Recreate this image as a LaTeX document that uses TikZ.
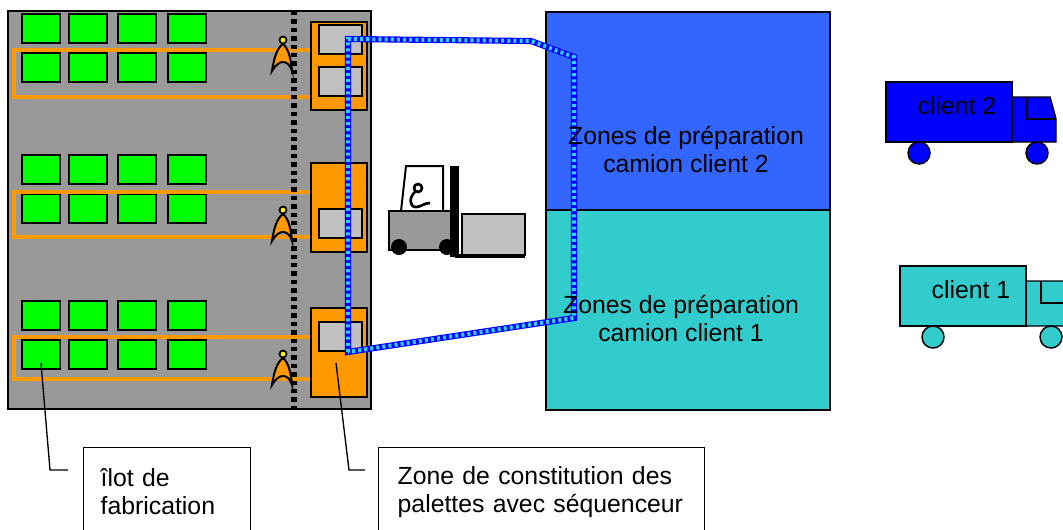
\documentclass[tikz,border=0pt]{standalone}
\usepackage{fontspec}
\setmainfont{Liberation Sans}

\definecolor{floorgrey}{HTML}{999999}
\definecolor{islegreen}{HTML}{00FF00}
\definecolor{seqorange}{HTML}{FF9900}
\definecolor{palletgrey}{HTML}{C0C0C0}
\definecolor{zoneblue}{HTML}{3366FF}
\definecolor{zonecyan}{HTML}{33CCCC}
\definecolor{truckblue}{HTML}{0000FF}
\definecolor{routecyan}{HTML}{33CCFF}

\tikzset{
	txt/.style={font=\fontsize{18.6}{21}\selectfont},
	worker/.pic={
		\draw[fill=seqorange, line width=1.5pt] (0,4) .. controls (-6,8) and (-9,18) .. (-11,31) .. controls (-7,24) and (-3,22) .. (0,22) .. controls (3,22) and (7,24) .. (9,31) .. controls (8,18) and (5,8) .. (0,4) -- cycle;
		\draw[fill=yellow, line width=1.3pt] (0,0) circle (3.5);
	}
}

\begin{document}
\begin{tikzpicture}[x=0.75pt, y=-0.75pt]
					\useasboundingbox (0,0) rectangle (1063,529);
					\clip (0,0) rectangle (1063,529);
					
					% atelier
					\draw[fill=floorgrey, line width=1.4pt] (8,11) rectangle (371,409);
					\foreach \gy in {14,155,301}
						\foreach \gx in {22,69,118,168}
						{
							\draw[fill=islegreen, line width=1.8pt] (\gx,\gy) rectangle ++(38,29);
							\draw[fill=islegreen, line width=1.8pt] (\gx,\gy+39) rectangle ++(38,29);
						}
					
					\draw[seqorange, line width=3pt] (312,50) -- (14,50) -- (14,97) -- (312,97);
					\draw[seqorange, line width=3pt] (312,192) -- (14,192) -- (14,237) -- (312,237);
					\draw[seqorange, line width=3pt] (312,337) -- (14,337) -- (14,379) -- (312,379);
					
					\draw[line width=3.8pt, dash pattern=on 3.3pt off 3pt] (294,11) -- (294,409);
					
					% sequenceurs
					\draw[fill=seqorange, line width=1.3pt] (311,22) rectangle (367,110);
					\draw[fill=seqorange, line width=1.3pt] (311,163) rectangle (367,252);
					\draw[fill=seqorange, line width=1.3pt] (311,308) rectangle (367,397);
					\draw[fill=palletgrey, line width=1.9pt] (319,25) rectangle (362,54);
					\draw[fill=palletgrey, line width=1.9pt] (319,67) rectangle (362,96);
					\draw[fill=palletgrey, line width=1.9pt] (319,209) rectangle (362,238);
					\draw[fill=palletgrey, line width=1.9pt] (319,322) rectangle (362,351);
					
					\pic at (283,40) {worker};
					\pic at (283,210) {worker};
					\pic at (283,354) {worker};
					
					% zones de preparation
					\node[draw, fill=zoneblue, line width=1.3pt, inner sep=0, anchor=north west, minimum width=213pt, minimum height=148.5pt] (zoneB) at (545,11) {};
					\node[draw, fill=zonecyan, line width=1.3pt, inner sep=0, anchor=north west, minimum width=213pt, minimum height=150pt] (zoneA) at (545,209) {};
					
					% tournee du cariste
					\coordinate (R1) at (348,352);
					\coordinate (R2) at (348,39);
					\coordinate (R3) at (531,41);
					\coordinate (R4) at (574,57);
					\coordinate (R5) at (574,318);
					\draw[truckblue, line width=4.6pt] (R1) -- (R2) -- (R3) -- (R4) -- (R5) -- cycle;
					\draw[routecyan, line width=3pt, dash pattern=on 2.3pt off 2.3pt] (R1) -- (R2) -- (R3) -- (R4) -- (R5) -- cycle;
					
					\node[txt, align=center] (zoneBtxt) at (686,149) {Zones de préparation\\camion client 2};
					\node[txt, align=center] (zoneAtxt) at (681,318) {Zones de préparation\\camion client 1};
					
					% chariot
					\draw[fill=white, line width=1.5pt] (401,211) -- (406,166) -- (443,166) -- (443,211) -- cycle;
					\draw[line width=2pt] (418,188) circle (4);
					\draw[line width=2pt] (415,192) .. controls (409,197) and (409,207) .. (416,207) .. controls (421,207) and (424,203) .. (430,203);
					\draw[fill=floorgrey, line width=1.5pt] (389,211) rectangle (452,250);
					\draw[fill=palletgrey, line width=1.5pt] (462,214) rectangle (525,255);
					\draw[line width=2.5pt] (455,256) -- (525,256);
					\fill (450,166) rectangle (459,257);
					\fill (399,247) circle (8);
					\fill (447,247) circle (8);
					
					% camions
					\foreach \tx/\ty/\tcol/\tnum in {886/82/truckblue/2, 900/266/zonecyan/1}
					{
						\begin{scope}[shift={(\tx,\ty)}]
							\draw[fill=\tcol, line width=1.1pt] (126,15) -- (164,15) -- (170,37) -- (170,60) -- (126,60) -- cycle;
							\draw[line width=1.1pt] (141,15) -- (141,37) -- (170,37);
							\draw[fill=\tcol, line width=1.1pt] (0,0) rectangle (126,60);
							\draw[fill=\tcol, line width=1.1pt] (33,71) circle (11);
							\draw[fill=\tcol, line width=1.1pt] (151,71) circle (11);
							\node[txt] (client\tnum) at (71,24) {client \tnum};
						\end{scope}
					}
					
					% legendes
					\node[draw, line width=1pt, txt, anchor=north west, inner xsep=12.75pt, text width=99.75pt, minimum height=66pt, align=left] (calIlot) at (83,447) {îlot de\\fabrication};
					\node[draw, line width=1pt, txt, anchor=north west, inner xsep=14.25pt, text width=216pt, minimum height=66pt, align=left] (calSeq) at (378,447) {Zone de constitution des\\palettes avec séquenceur};
					
					\coordinate (ilotPt) at (41,363);
					\coordinate (ilotBend) at (50,470);
					\coordinate (ilotEnd) at (68,470);
					\coordinate (seqPt) at (336,363);
					\coordinate (seqBend) at (349,470);
					\coordinate (seqEnd) at (365,470);
					\draw[line width=1pt] (ilotPt) -- (ilotBend) -- (ilotEnd);
					\draw[line width=1pt] (seqPt) -- (seqBend) -- (seqEnd);
				\end{tikzpicture}
\end{document}
